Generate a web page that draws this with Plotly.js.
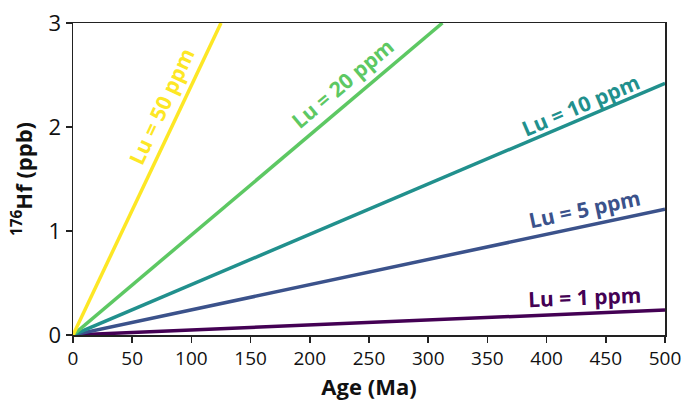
<!DOCTYPE html>
<html>
<head>
<meta charset="utf-8">
<script src="https://cdn.plot.ly/plotly-3.0.1.min.js"></script>
<style>html,body{margin:0;padding:0;background:#fff;}#chart{width:683px;height:402px;}</style>
</head>
<body>
<div id="chart"></div>
<script>
// Series (age in Ma, 176Hf in ppb)
const lu1Age = [0, 500];   const lu1Hf = [0, 0.24];
const lu5Age = [0, 500];   const lu5Hf = [0, 1.21];
const lu10Age = [0, 500];  const lu10Hf = [0, 2.42];
const lu20Age = [0, 312];  const lu20Hf = [0, 3.0];
const lu50Age = [0, 125];  const lu50Hf = [0, 3.0];

const seriesNames = ["Lu = 1 ppm", "Lu = 5 ppm", "Lu = 10 ppm", "Lu = 20 ppm", "Lu = 50 ppm"];
const colors = ["#440154", "#3b528b", "#21908d", "#5dc863", "#fde725"];

// label anchor positions (data coords) and text angles
const labelX = [432, 432, 429, 228, 75];
const labelY = [0.37, 1.21, 2.21, 2.42, 2.2];
const labelAngle = [-2.4, -12, -23, -40, -65];

const xs = [lu1Age, lu5Age, lu10Age, lu20Age, lu50Age];
const ys = [lu1Hf, lu5Hf, lu10Hf, lu20Hf, lu50Hf];

const traces = xs.map((x, i) => ({
  x: x, y: ys[i], mode: "lines", name: seriesNames[i],
  line: {color: colors[i], width: 3.5}, hoverinfo: "skip"
}));

const annotations = seriesNames.map((t, i) => ({
  x: labelX[i], y: labelY[i], xref: "x", yref: "y", text: "<b>" + t + "</b>",
  showarrow: false, textangle: labelAngle[i],
  font: {family: "Open Sans", size: 21, color: colors[i]}
}));

const layout = {
  width: 683, height: 402,
  margin: {l: 73, r: 18, t: 23, b: 67},
  showlegend: false,
  paper_bgcolor: "#fff", plot_bgcolor: "#fff",
  font: {family: "Open Sans", size: 19, color: "#111"},
  xaxis: {
    range: [0, 500], tickvals: [0,50,100,150,200,250,300,350,400,450,500],
    showgrid: false, zeroline: false, showline: true, mirror: true,
    linecolor: "#222", linewidth: 1.5, ticks: "outside", ticklen: 6, tickwidth: 1.5, tickcolor: "#222",
    tickfont: {family: "Open Sans", size: 19},
    title: {text: "<b>Age (Ma)</b>", font: {family: "Open Sans", size: 22}, standoff: 6}
  },
  yaxis: {
    range: [0, 3], tickvals: [0,1,2,3],
    showgrid: false, zeroline: false, showline: true, mirror: true,
    linecolor: "#222", linewidth: 1.5, ticks: "outside", ticklen: 6, tickwidth: 1.5, tickcolor: "#222",
    tickfont: {family: "Open Sans", size: 22},
    title: {text: "<b><sup>176</sup>Hf (ppb)</b>", font: {family: "Open Sans", size: 22}, standoff: 10}
  },
  annotations: annotations
};

Plotly.newPlot("chart", traces, layout, {staticPlot: true, displayModeBar: false});
</script>
</body>
</html>
